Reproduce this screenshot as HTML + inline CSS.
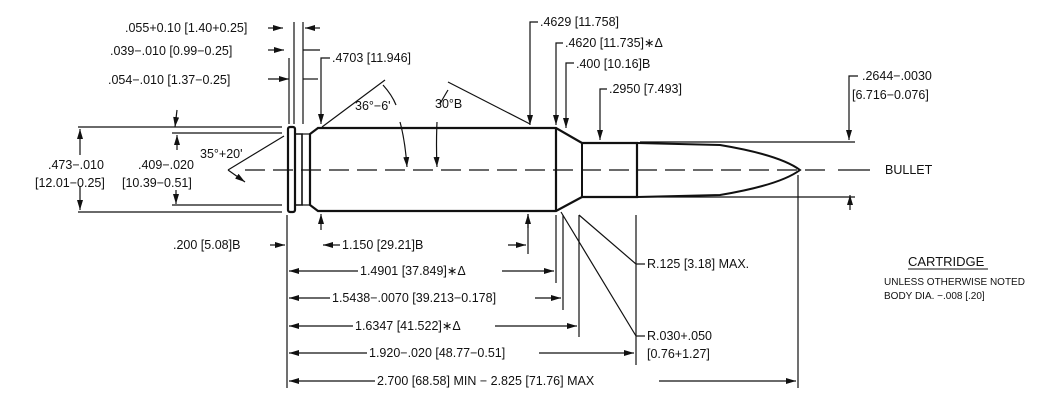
<!DOCTYPE html>
<html><head><meta charset="utf-8"><style>
html,body{margin:0;padding:0;background:#fff;}
svg{display:block;}
text{font-family:"Liberation Sans",sans-serif;font-size:12.5px;fill:#111;}
</style></head><body>
<svg width="1059" height="409" viewBox="0 0 1059 409" xmlns="http://www.w3.org/2000/svg">
<defs><marker id="a" viewBox="0 0 10 6" refX="10" refY="3" markerWidth="10" markerHeight="6" orient="auto-start-reverse" markerUnits="userSpaceOnUse"><path d="M0,0L10,3L0,6z" fill="#111"/></marker></defs>
<g stroke="#111" fill="none" stroke-width="1.2">
<path d="M318,128 L556,128 L582,143 L637,143 L637,197 L582,197 L556,211 L318,211 L310,205 L310,134 Z" stroke-width="2.2"/>
<line x1="556" y1="128" x2="556" y2="211" stroke-width="2.2"/>
<line x1="582" y1="143" x2="582" y2="197" stroke-width="2"/>
<path d="M637,143 L720,145 Q780,155 800,170 Q780,185 720,195 L637,197" stroke-width="2"/>
<rect x="288" y="127" width="7" height="85" rx="2" stroke-width="2.2"/>
<path d="M295,134 L302,134 L302,205 L295,205" stroke-width="1.6"/>
<line x1="302" y1="134" x2="310" y2="134"/><line x1="302" y1="205" x2="310" y2="205"/>
<line x1="245" y1="170" x2="830" y2="170" stroke-dasharray="20,8"/>
<line x1="838" y1="170" x2="870" y2="170"/>
<line x1="78" y1="127" x2="282" y2="127"/><line x1="78" y1="212" x2="282" y2="212"/>
<line x1="80" y1="129" x2="80" y2="155" marker-start="url(#a)"/><line x1="80" y1="186" x2="80" y2="210" marker-end="url(#a)"/>
<line x1="172" y1="133" x2="282" y2="133"/><line x1="172" y1="205" x2="282" y2="205"/>
<line x1="177" y1="110" x2="175" y2="127" marker-end="url(#a)"/>
<line x1="177" y1="150" x2="177" y2="135" marker-end="url(#a)"/>
<line x1="176" y1="190" x2="176" y2="204" marker-end="url(#a)"/>
<line x1="284" y1="136" x2="228" y2="170"/><line x1="228" y1="170" x2="245" y2="182" marker-end="url(#a)"/>
<line x1="268" y1="28" x2="283" y2="28" marker-end="url(#a)"/><line x1="320" y1="28" x2="305" y2="28" marker-end="url(#a)"/>
<line x1="268" y1="50" x2="284" y2="50" marker-end="url(#a)"/><line x1="268" y1="79" x2="289" y2="79" marker-end="url(#a)"/>
<line x1="289" y1="58" x2="289" y2="124"/><line x1="294" y1="22" x2="294" y2="124"/><line x1="303" y1="22" x2="303" y2="124"/>
<line x1="303" y1="50" x2="320" y2="50"/><line x1="303" y1="79" x2="318" y2="79"/>
<path d="M330,58 L321,58 L321,124" marker-end="url(#a)"/>
<line x1="321" y1="214" x2="321" y2="230" marker-start="url(#a)"/>
<line x1="322" y1="127" x2="385" y2="80"/>
<path d="M383,85 Q392,95 396,105"/><path d="M400,122 Q405,140 407,167" marker-end="url(#a)"/>
<line x1="448" y1="82" x2="530" y2="124"/>
<path d="M448,90 Q442,100 440,104"/><path d="M437,122 Q436,145 437,167" marker-end="url(#a)"/>
<path d="M538,22 L530,22 L530,125" marker-end="url(#a)"/>
<path d="M563,43 L556,43 L556,125" marker-end="url(#a)"/>
<path d="M574,63 L566,63 L566,128" marker-end="url(#a)"/>
<path d="M607,89 L600,89 L600,140" marker-end="url(#a)"/>
<path d="M858,76 L849,76 L849,140" marker-end="url(#a)"/>
<line x1="850" y1="210" x2="850" y2="195" marker-end="url(#a)"/>
<line x1="640" y1="142" x2="855" y2="142"/><line x1="640" y1="197" x2="855" y2="197"/>
<line x1="287" y1="215" x2="287" y2="388"/>
<line x1="556" y1="215" x2="556" y2="283"/><line x1="563" y1="215" x2="563" y2="310"/>
<line x1="579" y1="215" x2="579" y2="337"/><line x1="636" y1="215" x2="636" y2="365"/>
<line x1="798" y1="175" x2="798" y2="388"/><line x1="528" y1="214" x2="528" y2="254"/>
<line x1="528" y1="228" x2="528" y2="214" marker-end="url(#a)"/>
<line x1="579" y1="215" x2="636" y2="264"/><line x1="561" y1="212" x2="636" y2="336"/>
<line x1="636" y1="264" x2="645" y2="264"/><line x1="636" y1="336" x2="645" y2="336"/>
<line x1="270" y1="245" x2="285" y2="245" marker-end="url(#a)"/>
<line x1="323" y1="245" x2="340" y2="245" marker-start="url(#a)"/><line x1="508" y1="245" x2="526" y2="245" marker-end="url(#a)"/>
<line x1="289" y1="271" x2="358" y2="271" marker-start="url(#a)"/><line x1="502" y1="271" x2="554" y2="271" marker-end="url(#a)"/>
<line x1="289" y1="298" x2="330" y2="298" marker-start="url(#a)"/><line x1="535" y1="298" x2="561" y2="298" marker-end="url(#a)"/>
<line x1="289" y1="326" x2="353" y2="326" marker-start="url(#a)"/><line x1="495" y1="326" x2="577" y2="326" marker-end="url(#a)"/>
<line x1="289" y1="353" x2="367" y2="353" marker-start="url(#a)"/><line x1="539" y1="353" x2="634" y2="353" marker-end="url(#a)"/>
<line x1="289" y1="381" x2="375" y2="381" marker-start="url(#a)"/><line x1="659" y1="381" x2="796" y2="381" marker-end="url(#a)"/>
<line x1="908" y1="269" x2="988" y2="269" stroke-width="1"/>
</g>
<text x="125" y="32">.055+0.10 [1.40+0.25]</text>
<text x="110" y="55">.039−.010 [0.99−0.25]</text>
<text x="108" y="84">.054−.010 [1.37−0.25]</text>
<text x="332" y="62">.4703 [11.946]</text>
<text x="355" y="110">36°−6'</text>
<text x="435" y="108">30°B</text>
<text x="200" y="158">35°+20'</text>
<text x="48" y="169">.473−.010</text>
<text x="35" y="187">[12.01−0.25]</text>
<text x="138" y="169">.409−.020</text>
<text x="122" y="187">[10.39−0.51]</text>
<text x="540" y="26">.4629 [11.758]</text>
<text x="565" y="47">.4620 [11.735]∗Δ</text>
<text x="576" y="68">.400 [10.16]B</text>
<text x="609" y="93">.2950 [7.493]</text>
<text x="862" y="80">.2644−.0030</text>
<text x="852" y="99">[6.716−0.076]</text>
<text x="885" y="174">BULLET</text>
<text x="173" y="249">.200 [5.08]B</text>
<text x="342" y="249">1.150 [29.21]B</text>
<text x="360" y="275">1.4901 [37.849]∗Δ</text>
<text x="332" y="302">1.5438−.0070 [39.213−0.178]</text>
<text x="355" y="330">1.6347 [41.522]∗Δ</text>
<text x="369" y="357">1.920−.020 [48.77−0.51]</text>
<text x="377" y="385">2.700 [68.58] MIN − 2.825 [71.76] MAX</text>
<text x="647" y="268">R.125 [3.18] MAX.</text>
<text x="647" y="340">R.030+.050</text>
<text x="647" y="358">[0.76+1.27]</text>
<text x="908" y="266" style="font-size:13px">CARTRIDGE</text>
<text x="884" y="285" style="font-size:10px">UNLESS OTHERWISE NOTED</text>
<text x="884" y="299" style="font-size:10px">BODY DIA. −.008 [.20]</text>
</svg>
</body></html>
